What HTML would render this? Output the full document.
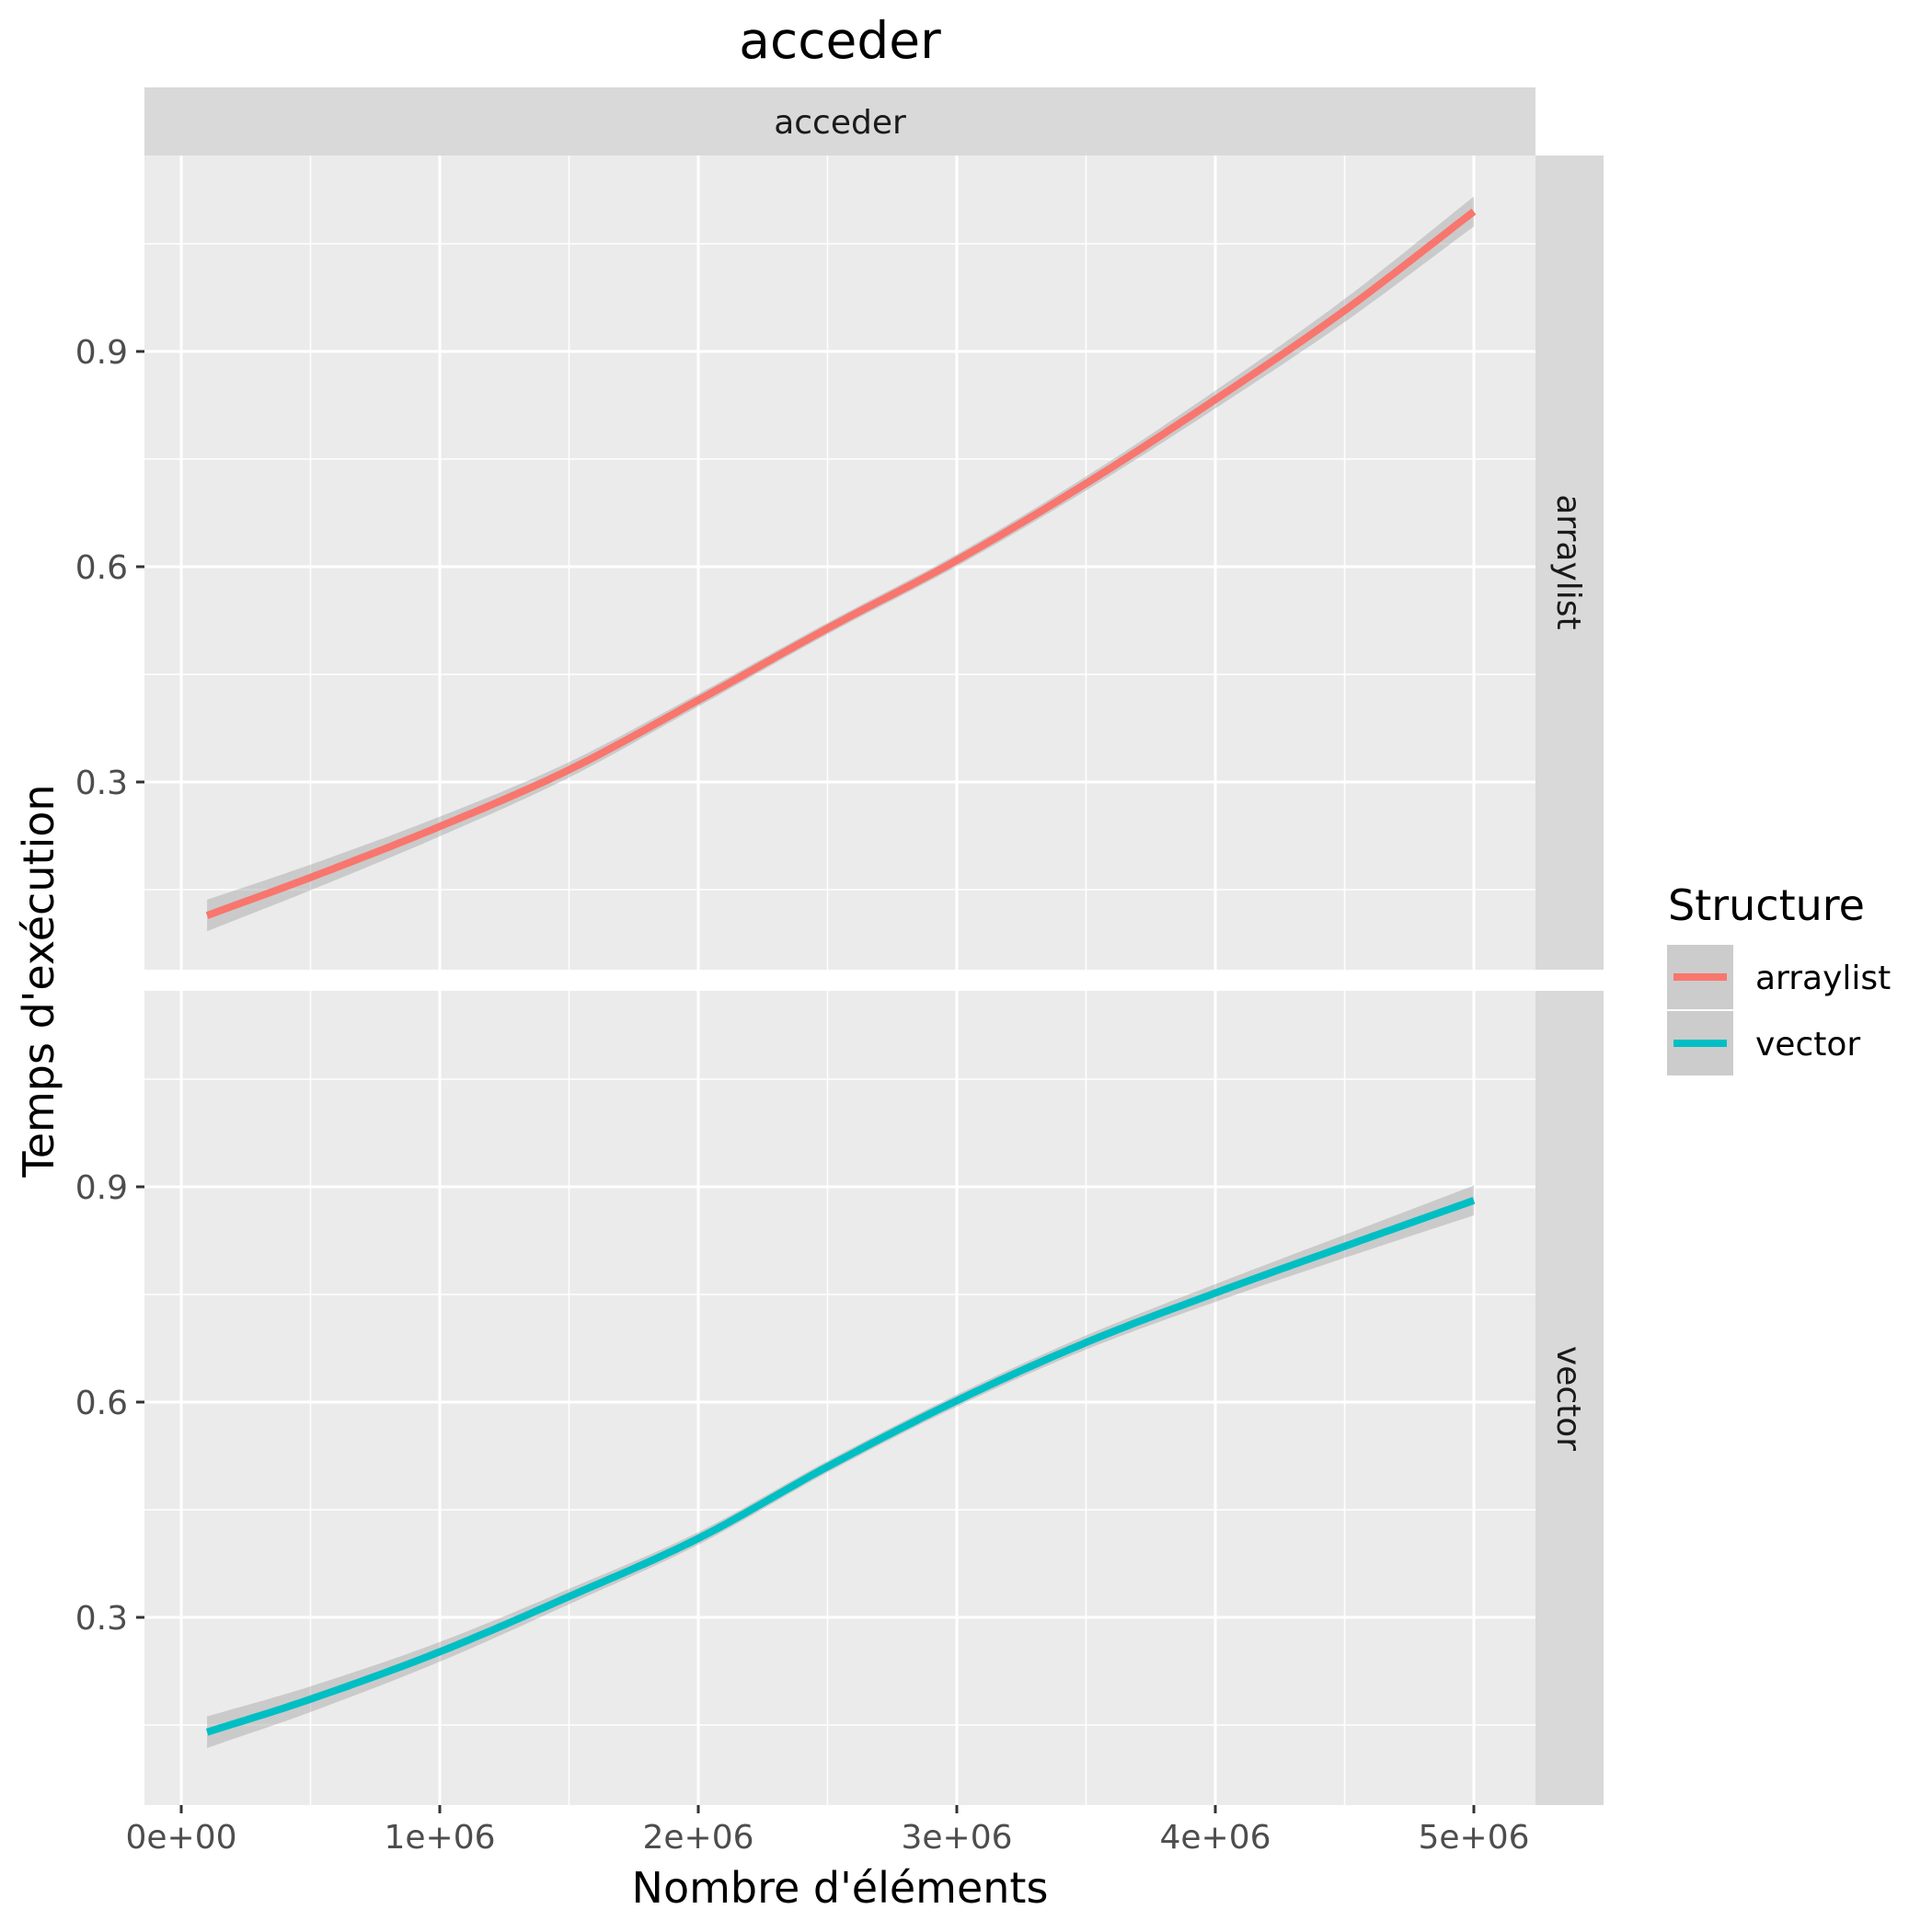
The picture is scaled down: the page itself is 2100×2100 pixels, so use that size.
<!DOCTYPE html>
<html><head><meta charset="utf-8"><style>
html,body{margin:0;padding:0;background:#fff;}
svg{display:block;font-family:"DejaVu Sans","Liberation Sans",sans-serif;}
</style></head><body>
<svg id="s" width="2100" height="2100" viewBox="0 0 2100 2100" xmlns="http://www.w3.org/2000/svg">
<rect width="2100" height="2100" fill="#fff"/>
<text x="913" y="63" font-size="55" text-anchor="middle" fill="#000">acceder</text>
<rect x="157" y="95" width="1512" height="74" fill="#D9D9D9"/>
<text x="913" y="145" font-size="36" text-anchor="middle" fill="#1a1a1a">acceder</text>
<g id="panels"></g>
<rect x="1669" y="169" width="74" height="885" fill="#D9D9D9"/>
<rect x="1669" y="1077" width="74" height="885" fill="#D9D9D9"/>
<text transform="translate(1693,611) rotate(90)" font-size="36" text-anchor="middle" fill="#1a1a1a">arraylist</text>
<text transform="translate(1693,1520) rotate(90)" font-size="36" text-anchor="middle" fill="#1a1a1a">vector</text>
<text transform="translate(58,1066) rotate(-90)" font-size="46" text-anchor="middle" fill="#000">Temps d'exécution</text>
<text x="913" y="2068" font-size="46" text-anchor="middle" fill="#000">Nombre d'éléments</text>
<text x="1813" y="1000" font-size="46" fill="#000">Structure</text>
<rect x="1812" y="1027" width="72" height="70" fill="#CCCCCC"/>
<rect x="1812" y="1099" width="72" height="70" fill="#CCCCCC"/>
<line x1="1819" y1="1062" x2="1877" y2="1062" stroke="#F8766D" stroke-width="8"/>
<line x1="1819" y1="1134" x2="1877" y2="1134" stroke="#00BFC4" stroke-width="8"/>
<text x="1908" y="1075" font-size="36" fill="#000">arraylist</text>
<text x="1908" y="1147" font-size="36" fill="#000">vector</text>
</svg>
<script>
(function(){
var NS="http://www.w3.org/2000/svg",g=document.getElementById("panels");
function el(n,a){var e=document.createElementNS(NS,n);for(var k in a)e.setAttribute(k,a[k]);g.appendChild(e);return e;}
function X(v){return 197+281*v;}
var xs=[0.1,0.5,1,1.5,2,2.5,3,3.5,4,4.5,5];
var A=[0.114,0.167,0.238,0.317,0.414,0.514,0.609,0.716,0.833,0.957,1.095];
var V=[0.140,0.186,0.252,0.329,0.410,0.510,0.602,0.683,0.752,0.817,0.881];
var panels=[{top:169,off:0,d:A,c:"#F8766D"},{top:1077,off:908,d:V,c:"#00BFC4"}];
function spline(d){var out=[];for(var i=0;i<=200;i++){var t=0.1+4.9*i/200;var j=0;while(j<xs.length-2&&t>xs[j+1])j++;
 var p0=d[Math.max(j-1,0)],p1=d[j],p2=d[j+1],p3=d[Math.min(j+2,d.length-1)];
 var x0=xs[Math.max(j-1,0)],x1=xs[j],x2=xs[j+1],x3=xs[Math.min(j+2,xs.length-1)];
 var m1=(p2-p0)/(x2-x0),m2=(p3-p1)/(x3-x1),h=x2-x1,u=(t-x1)/h;
 var h00=2*u*u*u-3*u*u+1,h10=u*u*u-2*u*u+u,h01=-2*u*u*u+3*u*u,h11=u*u*u-u*u;
 out.push([t,h00*p1+h10*h*m1+h01*p2+h11*h*m2]);}return out;}
panels.forEach(function(p){
 function Y(v){return 382+p.off+(0.9-v)*780;}
 el("rect",{x:157,y:p.top,width:1512,height:885,fill:"#EBEBEB"});
 [0.15,0.45,0.75,1.05].forEach(function(v){el("line",{x1:157,x2:1669,y1:Y(v),y2:Y(v),stroke:"#fff","stroke-width":1.5});});
 [0.5,1.5,2.5,3.5,4.5].forEach(function(v){el("line",{x1:X(v),x2:X(v),y1:p.top,y2:p.top+885,stroke:"#fff","stroke-width":1.5});});
 [0.3,0.6,0.9].forEach(function(v){el("line",{x1:157,x2:1669,y1:Y(v),y2:Y(v),stroke:"#fff","stroke-width":3});
  el("line",{x1:148,x2:157,y1:Y(v),y2:Y(v),stroke:"#333","stroke-width":3});
  var t=el("text",{x:139,y:Y(v)+13,"font-size":36,"text-anchor":"end",fill:"#4D4D4D"});t.textContent=v.toFixed(1);});
 [0,1,2,3,4,5].forEach(function(v){el("line",{x1:X(v),x2:X(v),y1:p.top,y2:p.top+885,stroke:"#fff","stroke-width":3});});
 var pts=spline(p.d),up="",lo="",ln="";
 pts.forEach(function(q,i){var t=q[0],w=0.008+0.014*Math.pow(Math.abs(t-2.6)/2.5,2);
  up+=(i?"L":"M")+X(t).toFixed(1)+","+Y(q[1]+w).toFixed(1);
  ln+=(i?"L":"M")+X(t).toFixed(1)+","+Y(q[1]).toFixed(1);});
 for(var i=pts.length-1;i>=0;i--){var t=pts[i][0],w=0.008+0.014*Math.pow(Math.abs(t-2.6)/2.5,2);lo+="L"+X(t).toFixed(1)+","+Y(pts[i][1]-w).toFixed(1);}
 el("path",{d:up+lo+"Z",fill:"rgba(153,153,153,0.4)"});
 el("path",{d:ln,fill:"none",stroke:p.c,"stroke-width":8});
});
["0e+00","1e+06","2e+06","3e+06","4e+06","5e+06"].forEach(function(s,i){
 el("line",{x1:X(i),x2:X(i),y1:1962,y2:1971,stroke:"#333","stroke-width":3});
 var t=el("text",{x:X(i),y:2009,"font-size":36,"text-anchor":"middle",fill:"#4D4D4D"});t.textContent=s;});
})();
</script>
</body></html>
